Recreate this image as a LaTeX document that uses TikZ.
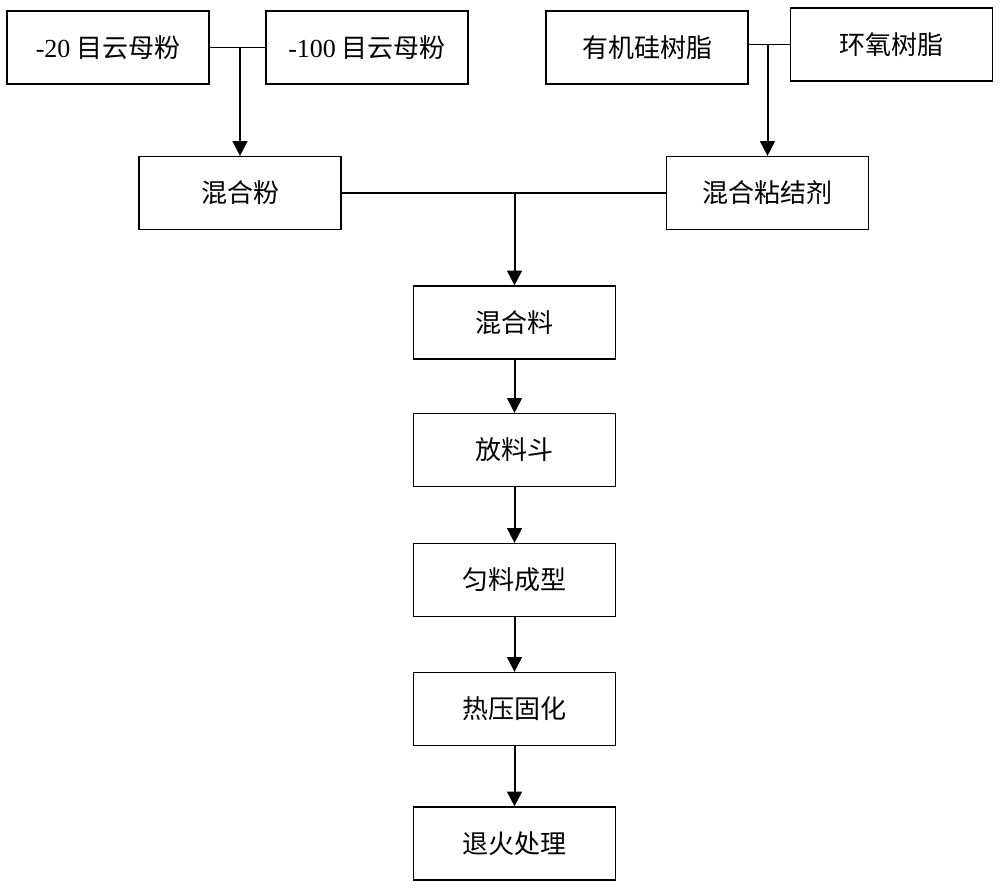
\documentclass[tikz,border=0pt]{standalone}
\usepackage{fontspec}
\setmainfont{Liberation Serif}
\newfontfamily\cjk{Noto Sans CJK SC}
\usetikzlibrary{arrows.meta}

\begin{document}
\begin{tikzpicture}[x=0.75pt,y=-0.75pt,line width=0.9pt,
        stage/.style={draw,minimum width=151.5pt,minimum height=54.75pt,inner sep=0pt,
                      font=\fontsize{19.5}{23}\selectfont\cjk},
        flow/.style={-{Triangle[width=11pt,length=11pt]},line width=1.5pt}]

        \useasboundingbox (0,0) rectangle (1000,888);

        % Define vertices
        \node[stage] (m20) at (108,47.5) {{\rmfamily -20} 目云母粉};
        \node[stage] (m100) at (367,47.5) {{\rmfamily -100} 目云母粉};
        \node[stage] (silicone) at (647,47.5) {有机硅树脂};
        \node[stage] (epoxy) at (891.5,44.5) {环氧树脂};
        \node[stage] (powder) at (240,193) {混合粉};
        \node[stage] (binder) at (767.5,193) {混合粘结剂};
        \node[stage] (mix) at (514.5,322.5) {混合料};
        \node[stage] (hopper) at (514.5,450) {放料斗};
        \node[stage] (forming) at (514.5,580) {匀料成型};
        \node[stage] (press) at (514.5,709) {热压固化};
        \node[stage] (anneal) at (514.5,843.5) {退火处理};

        % Draw edges
        \draw (m20.east) -- (m100.west);
        \draw[flow] (m20.east -| powder.north) -- (powder.north);
        \draw (silicone.east |- epoxy.west) -- (epoxy.west);
        \draw[flow] (epoxy.west -| binder.north) -- (binder.north);
        \draw (powder.east) -- (binder.west);
        \draw[flow] (powder.east -| mix.north) -- (mix.north);
        \path[flow]
            (mix) edge (hopper)
            (hopper) edge (forming)
            (forming) edge (press)
            (press) edge (anneal);

\end{tikzpicture}
\end{document}
